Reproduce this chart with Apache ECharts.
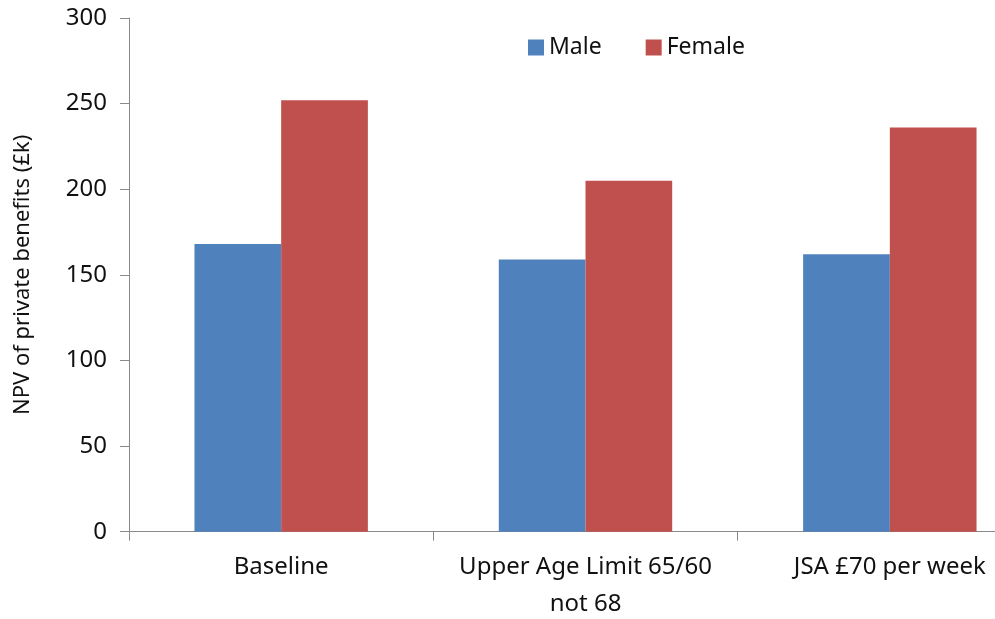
<!DOCTYPE html>
<html>
<head>
<meta charset="utf-8">
<script src="https://cdn.jsdelivr.net/npm/echarts@6/dist/echarts.min.js"></script>
<style>
html,body{margin:0;padding:0;background:#fff;}
#chart{width:995px;height:619px;}
</style>
</head>
<body>
<div id="chart"></div>
<script>
const categories = ["Baseline", "Upper Age Limit 65/60\nnot 68", "JSA £70 per week"];
const maleValues = [168, 159, 162];
const femaleValues = [252, 205, 236];
const yTicks = [0, 50, 100, 150, 200, 250, 300];

const chart = echarts.init(document.getElementById('chart'));
const font = '"Noto Sans", sans-serif';
chart.setOption({
  animation: false,
  backgroundColor: '#fff',
  legend: {
    data: ['Male', 'Female'],
    left: 528,
    top: 36,
    padding: 0,
    itemWidth: 16,
    itemHeight: 16,
    itemGap: 44,
    icon: 'rect',
    textStyle: { fontFamily: font, fontSize: 23, color: '#111' }
  },
  grid: { left: 129, top: 18, width: 913, bottom: 87.3, outerBoundsMode: 'none', containLabel: false },
  xAxis: {
    type: 'category',
    data: categories,
    axisLine: { lineStyle: { color: '#8a8a8a', width: 1 } },
    axisTick: { show: true, length: 9, lineStyle: { color: '#8a8a8a' } },
    axisLabel: { fontFamily: font, fontSize: 24, color: '#111', margin: 17, lineHeight: 37, interval: 0 }
  },
  yAxis: {
    type: 'value',
    min: 0, max: 300, interval: 50,
    name: 'NPV of private benefits (£k)',
    nameLocation: 'middle',
    nameGap: 95,
    nameTextStyle: { fontFamily: font, fontSize: 22, color: '#111' },
    axisLine: { show: true, lineStyle: { color: '#8a8a8a', width: 1 } },
    axisTick: { show: true, length: 9, lineStyle: { color: '#8a8a8a' } },
    splitLine: { show: false },
    axisLabel: {
      fontFamily: font, fontSize: 24, color: '#111', margin: 22,
      formatter: v => yTicks.includes(v) ? String(v) : ''
    }
  },
  series: [
    { name: 'Male', type: 'bar', data: maleValues, barWidth: 86.7, barGap: '0%', itemStyle: { color: '#4F81BD' } },
    { name: 'Female', type: 'bar', data: femaleValues, barWidth: 86.7, barGap: '0%', itemStyle: { color: '#C0504D' } }
  ]
});
</script>
</body>
</html>
